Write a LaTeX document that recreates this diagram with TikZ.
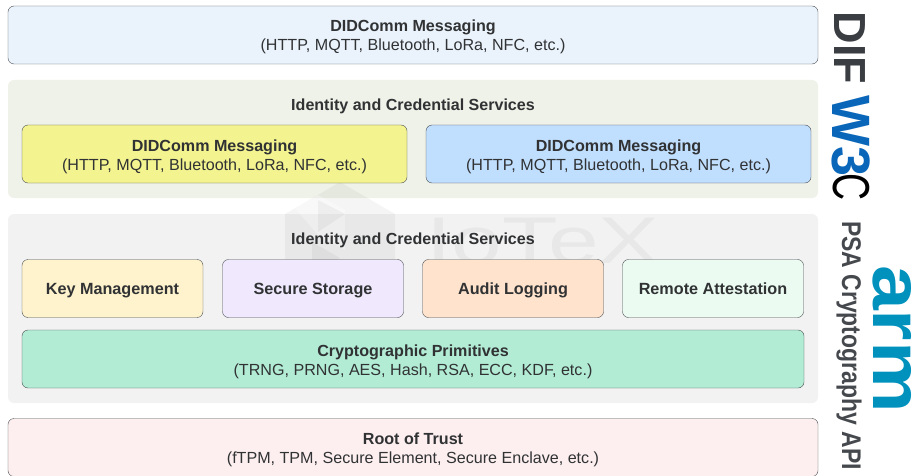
\documentclass[tikz,border=0pt]{standalone}
\usepackage{fontspec}
\setmainfont{Liberation Sans}
\usepackage{tikz}
\usetikzlibrary{shapes.geometric}
\definecolor{inktext}{HTML}{303234}
\definecolor{edgegray}{HTML}{4A4E52}
\definecolor{didgray}{HTML}{3A3D42}
\definecolor{psagray}{HTML}{45484C}
\definecolor{wblue}{HTML}{0A66B8}
\definecolor{armblue}{HTML}{0091BD}
\tikzstyle{band} = [rectangle, rounded corners=6pt, minimum width=810pt, text centered, inner sep=0pt]
\tikzstyle{layer} = [rectangle, rounded corners=6pt, minimum width=810pt, minimum height=58pt, align=center, draw=edgegray, text=inktext, font=\fontsize{16.1}{19}\selectfont, inner sep=0pt, text height=35pt, text depth=3pt]
\tikzstyle{halfbox} = [layer, minimum width=385pt]
\tikzstyle{smallbox} = [layer, minimum width=181pt, font=\fontsize{16.2}{19}\selectfont\bfseries, text height=14pt, text depth=3pt]
\tikzstyle{title} = [text=inktext, font=\fontsize{16.05}{19}\selectfont\bfseries, inner sep=0pt]
\tikzstyle{sidelabel} = [rotate=-90, anchor=base, inner sep=0pt]
\tikzstyle{wmark} = [black, opacity=.04]
\begin{document}
\begin{tikzpicture}[x=1pt, y=-1pt, node distance=104pt]
  \useasboundingbox (0,0) rectangle (912,476);
  \node(didcomm)[layer, fill={rgb,255:red,234;green,243;blue,252}] at (413,35) {\textbf{DIDComm Messaging}\\(HTTP, MQTT, Bluetooth, LoRa, NFC, etc.)};
  \node(upperband)[band, below of=didcomm, minimum height=118pt, fill={rgb,255:red,239;green,242;blue,232}]{};
  \node(lowerband)[band, below of=upperband, node distance=169.5pt, minimum height=189pt, fill={rgb,255:red,242;green,242;blue,242}]{};
  % watermark
  \fill[wmark] (340,182) -- (395,214) -- (395,268) -- (340,300) -- (285,268) -- (285,214) -- cycle;
  \fill[white, opacity=.3] (295,208) -- (318,195) -- (345,210) -- (345,250) -- (318,235) -- cycle;
  \fill[wmark] (318,200) -- (345,214) -- (318,232) -- cycle;
  \fill[wmark] (312,242) -- (340,258) -- (312,274) -- cycle;
  \node(logotext)[wmark, xscale=1.38, font=\fontsize{66}{66}\selectfont, inner sep=0pt] at (543,241) {IoTeX};
  \node(upperTitle)[title] at (413,106) {Identity and Credential Services};
  \node(lowerTitle)[title] at (413,240) {Identity and Credential Services};
  \node(left)[halfbox, fill={rgb,255:red,243;green,243;blue,143}] at (214.5,154) {\textbf{DIDComm Messaging}\\(HTTP, MQTT, Bluetooth, LoRa, NFC, etc.)};
  \node(right)[halfbox, right of=left, node distance=404pt, fill={rgb,255:red,192;green,222;blue,253}]{\textbf{DIDComm Messaging}\\(HTTP, MQTT, Bluetooth, LoRa, NFC, etc.)};
  \node(keys)[smallbox, fill={rgb,255:red,255;green,243;blue,205}] at (112.5,288.5) {Key Management};
  \node(storage)[smallbox, right of=keys, node distance=200.5pt, fill={rgb,255:red,240;green,233;blue,253}]{Secure Storage};
  \node(audit)[smallbox, right of=storage, node distance=200pt, fill={rgb,255:red,255;green,227;blue,204}]{Audit Logging};
  \node(remote)[smallbox, right of=audit, node distance=200pt, fill={rgb,255:red,236;green,251;blue,242}]{Remote Attestation};
  \node(primitives)[layer, minimum width=782pt, fill={rgb,255:red,179;green,236;blue,213}] at (413,359) {\textbf{Cryptographic Primitives}\\(TRNG, PRNG, AES, Hash, RSA, ECC, KDF, etc.)};
  \node(root)[layer, below of=lowerband, node distance=139pt, fill={rgb,255:red,253;green,239;blue,239}]{\textbf{Root of Trust}\\(fTPM, TPM, Secure Element, Secure Enclave, etc.)};
  \node(dif)[sidelabel, text=didgray, font=\fontsize{45}{45}\selectfont\bfseries] at (834,48) {DIF};
  \node(wthree)[sidelabel, text=wblue, font=\fontsize{54}{54}\selectfont\bfseries] at (832,136) {W3};
  \node(wc)[sidelabel, text=black, font=\fontsize{52}{52}\selectfont, xscale=.72] at (833,187) {C};
  \node(psa)[sidelabel, xscale=.85, text=psagray, font=\fontsize{27}{27}\selectfont\bfseries] at (842,345.5) {PSA Cryptography API};
  \node(arm)[sidelabel, xscale=1.06, yscale=.93, text=armblue, font=\fontsize{76}{76}\selectfont\bfseries] at (873,339) {arm};
\end{tikzpicture}
\end{document}
